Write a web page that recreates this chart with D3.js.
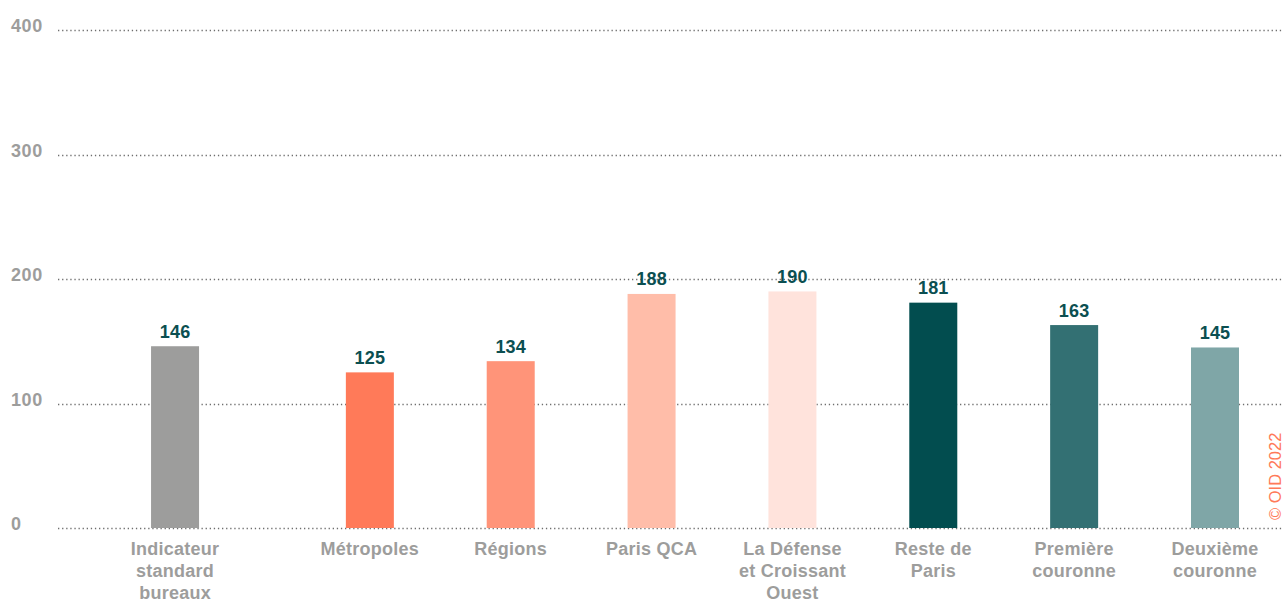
<!DOCTYPE html>
<html>
<head>
<meta charset="utf-8">
<script src="https://cdn.jsdelivr.net/npm/d3@7"></script>
<style>
  html, body { margin: 0; padding: 0; background: #fff; }
  svg { display: block; font-family: "Liberation Sans", Arial, sans-serif; }
  .tick-label { fill: #9d9d9c; font-size: 18px; font-weight: bold; letter-spacing: 0.6px; }
  .cat-label { fill: #9d9d9c; font-size: 18px; font-weight: bold; letter-spacing: 0.25px; }
  .val-label { fill: #0b4f51; font-size: 18px; font-weight: bold; letter-spacing: 0.2px; }
  .copyright { fill: #ff7a59; font-size: 16.5px; }
</style>
</head>
<body>
<script>
// data
var categories = [
    ["Indicateur", "standard", "bureaux"],
    ["Métropoles"],
    ["Régions"],
    ["Paris QCA"],
    ["La Défense", "et Croissant", "Ouest"],
    ["Reste de", "Paris"],
    ["Première", "couronne"],
    ["Deuxième", "couronne"]
];
var values = [146, 125, 134, 188, 190, 181, 163, 145];
var groups = [0, 1, 1, 1, 1, 1, 1, 1];
var colors = ["#9d9d9c", "#ff7a59", "#ff9479", "#ffbda9", "#ffe3dc", "#024d4f", "#337073", "#7fa6a7"];
var yTicks = [0, 100, 200, 300, 400];

var width = 1282,
    height = 601;

var svg = d3.select("body").append("svg")
    .attr("width", width)
    .attr("height", height);

// scales
var y = d3.scaleLinear().domain([0, 400]).range([528, 30]);
var x = d3.scaleLinear().domain([0, 7]).range([229, 1215]);
var groupGap = 0.383;   // extra space between the reference bar and the rest
var barW = 48;

function xPos(i) {
    return x(i - (groups[i] === 0 ? groupGap : 0));
}

// grid lines
svg.append("g").selectAll("line")
    .data(yTicks)
    .enter().append("line")
    .attr("x1", 58)
    .attr("x2", width)
    .attr("y1", function (d) { return Math.round(y(d)) + 0.5; })
    .attr("y2", function (d) { return Math.round(y(d)) + 0.5; })
    .attr("stroke", "#6e6e6e")
    .attr("stroke-width", 1.3)
    .attr("stroke-dasharray", "1.3,2.8");

svg.append("g").selectAll("text")
    .data(yTicks)
    .enter().append("text")
    .attr("class", "tick-label")
    .attr("x", 11)
    .attr("y", function (d) { return y(d) + 2; })
    .text(function (d) { return d; });

// bars
svg.append("g").selectAll("rect")
    .data(values)
    .enter().append("rect")
    .attr("x", function (d, i) { return xPos(i) - barW / 2; })
    .attr("y", function (d) { return y(d); })
    .attr("width", barW)
    .attr("height", function (d) { return y(0) - y(d); })
    .attr("fill", function (d, i) { return colors[i]; });

// value labels
svg.append("g").selectAll("text")
    .data(values)
    .enter().append("text")
    .attr("class", "val-label")
    .attr("text-anchor", "middle")
    .attr("x", function (d, i) { return xPos(i); })
    .attr("y", function (d) { return y(d) - 8.5; })
    .text(function (d) { return d; });

// category labels
var cat = svg.append("g").selectAll("text")
    .data(categories)
    .enter().append("text")
    .attr("class", "cat-label")
    .attr("text-anchor", "middle")
    .attr("x", function (d, i) { return xPos(i); })
    .attr("y", 555);

cat.selectAll("tspan")
    .data(function (d, i) { return d.map(function (t) { return { t: t, i: i }; }); })
    .enter().append("tspan")
    .attr("x", function (d) { return xPos(d.i); })
    .attr("dy", function (d, j) { return j === 0 ? 0 : 22; })
    .text(function (d) { return d.t; });

// copyright, reads bottom to top on the right edge
svg.append("text")
    .attr("class", "copyright")
    .attr("transform", "translate(1281,520) rotate(-90)")
    .text("© OID 2022");
</script>
</body>
</html>
